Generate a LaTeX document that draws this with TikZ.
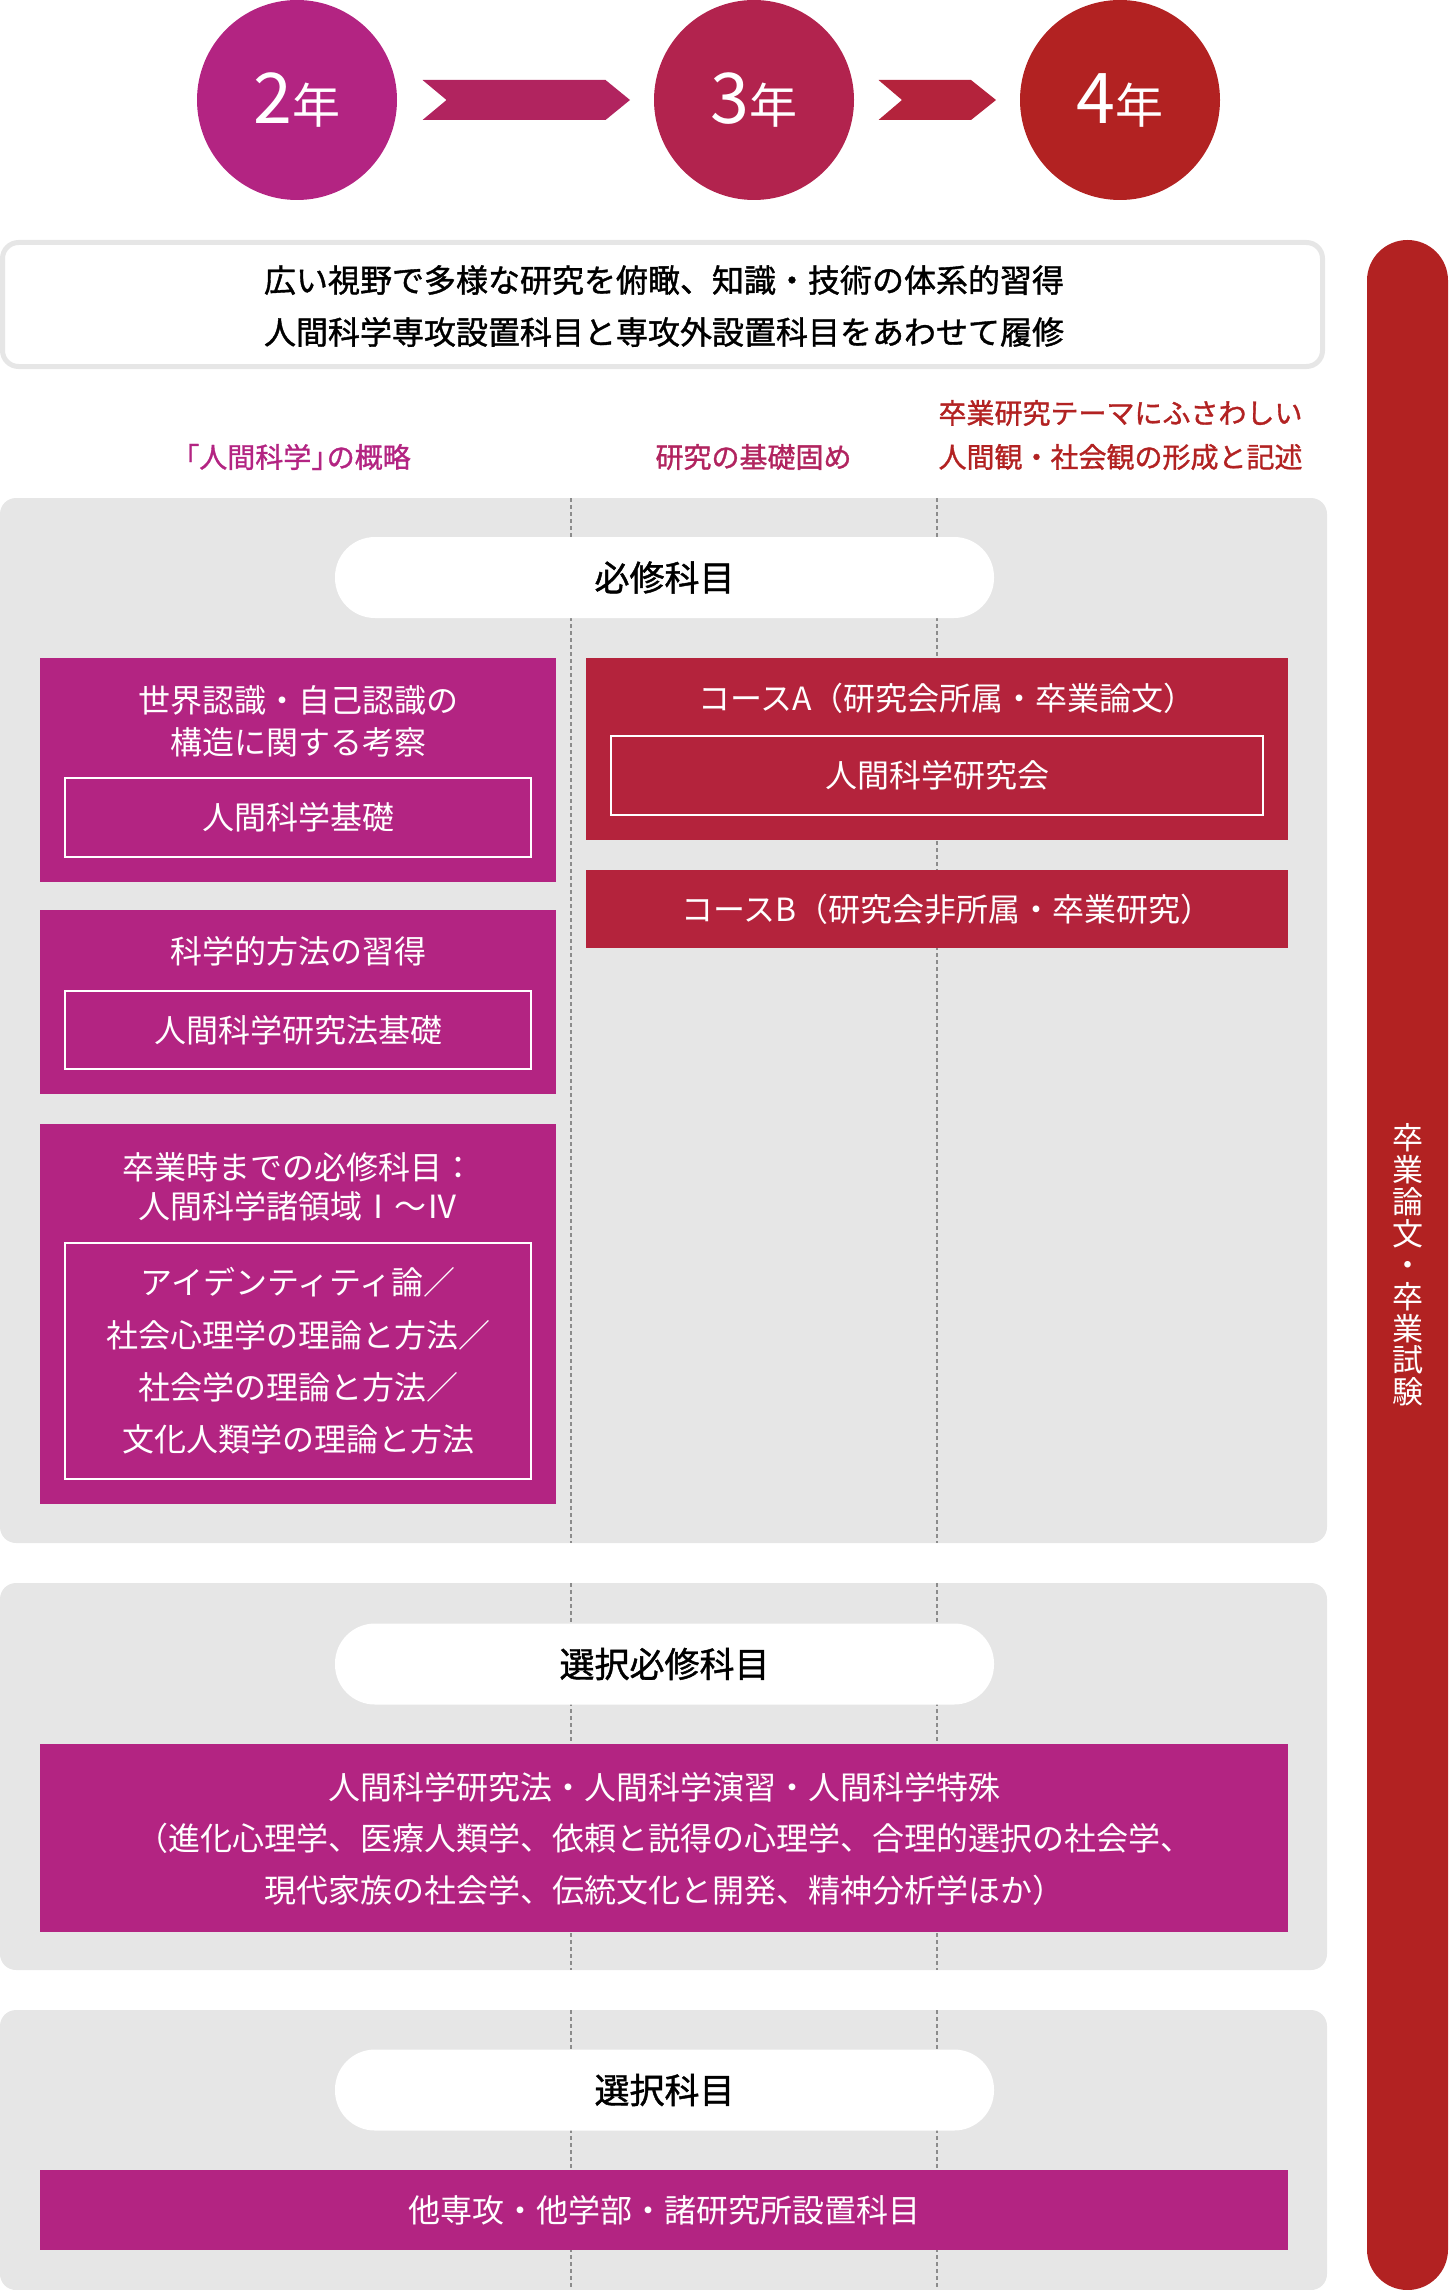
\documentclass[tikz,border=0pt]{standalone}
\usepackage{fontspec}
\setmainfont{Noto Sans CJK JP}
\newfontfamily\jpmed[FakeBold=1.2]{Noto Sans CJK JP}
\definecolor{mag}{HTML}{B32482}
\definecolor{magb}{HTML}{B1245F}
\definecolor{crim}{HTML}{B2234E}
\definecolor{crimb}{HTML}{B4233C}
\definecolor{redd}{HTML}{B22222}
\definecolor{panelc}{HTML}{E6E6E6}
\definecolor{dashc}{HTML}{8C8C8C}
\newcommand\yearlabel[1]{{\fontsize{70}{70}\selectfont #1}{\fontsize{48}{48}\selectfont 年}}
\begin{document}
\begin{tikzpicture}[x=1pt,y=-1pt,
  yearc/.style={circle,inner sep=0pt,minimum size=200pt,text=white},
  panelbox/.style={fill=panelc,rounded corners=16pt},
  dashln/.style={draw=dashc,line width=1.2pt,dash pattern=on 4pt off 3pt},
  lbl/.style={font=\jpmed\fontsize{28}{44}\selectfont,align=center,inner sep=0pt},
  pill/.style={fill=white,rounded corners=40pt,minimum width=659pt,minimum height=81pt,inner sep=0pt,font=\jpmed\fontsize{35}{35}\selectfont,text=black},
  cbox/.style={fill=#1,inner sep=0pt},
  wtxt/.style={text=white,align=center,inner sep=0pt,font=\fontsize{32}{42}\selectfont},
  inbox/.style={draw=white,line width=2.5pt,inner sep=0pt,text=white,align=center,font=\fontsize{32}{52.3}\selectfont}
]
\useasboundingbox (0,0) rectangle (1448,2290);

% year circles and chevrons
\node[yearc,fill=mag] (y2) at (297,100) {\yearlabel{2}};
\node[yearc,fill=crim] (y3) at (754,100) {\yearlabel{3}};
\node[yearc,fill=redd] (y4) at (1120,100) {\yearlabel{4}};
\fill[magb] (422.5,80) -- (605.5,80) -- (630,100) -- (605.5,120) -- (422.5,120) -- (446.5,100) -- cycle;
\fill[crimb] (878.5,80) -- (971,80) -- (996,100) -- (971,120) -- (878.5,120) -- (902,100) -- cycle;

% right bar
\fill[redd,rounded corners=40.5pt] (1367,240) rectangle (1448,2290);
\node[text=white,align=center,inner sep=0pt,font=\fontsize{31}{31.7}\selectfont] (vt) at (1408,1265)
  {卒\\業\\論\\文\\・\\卒\\業\\試\\験};

% intro box
\draw[draw=panelc,line width=5pt,fill=white,rounded corners=16pt] (2.5,242.5) rectangle (1322.5,366.5);
\node[align=center,inner sep=0pt,font=\jpmed\fontsize{32}{52}\selectfont,text=black] (intro) at (664,306)
  {広い視野で多様な研究を俯瞰、知識・技術の体系的習得\\人間科学専攻設置科目と専攻外設置科目をあわせて履修};

% column labels
\node[lbl,text=mag] (l1) at (291,457) {「人間科学」\kern-0.45em の概略};
\node[lbl,text=magb] (l2) at (753.5,457) {研究の基礎固め};
\node[lbl,text=redd] (l3) at (1120.5,435) {卒業研究テーマにふさわしい\\人間観・社会観の形成と記述};

% panels
\fill[panelbox] (0,498) rectangle (1327,1543);
\fill[panelbox] (0,1583) rectangle (1327,1970);
\fill[panelbox] (0,2010) rectangle (1327,2290);
\foreach \xx in {571,937}{
  \draw[dashln] (\xx,498) -- (\xx,1543);
  \draw[dashln] (\xx,1583) -- (\xx,1970);
  \draw[dashln] (\xx,2010) -- (\xx,2290);
}

% panel 1
\node[pill] (p1) at (664.5,577.5) {必修科目};
\node[cbox=mag,minimum width=516pt,minimum height=224pt] (b1) at (298,770) {};
\node[wtxt] (b1t) at (298,721) {世界認識・自己認識の\\構造に関する考察};
\node[inbox,minimum width=466pt,minimum height=79pt] (b1i) at (298,817.5) {人間科学基礎};

\node[cbox=mag,minimum width=516pt,minimum height=184pt] (b2) at (298,1002) {};
\node[wtxt] (b2t) at (298,951) {科学的方法の習得};
\node[inbox,minimum width=466pt,minimum height=78pt] (b2i) at (298,1030) {人間科学研究法基礎};

\node[cbox=mag,minimum width=516pt,minimum height=380pt] (b3) at (298,1314) {};
\node[wtxt,font=\fontsize{32}{39}\selectfont] (b3t) at (298,1186.5) {卒業時までの必修科目：\\人間科学諸領域Ⅰ～Ⅳ};
\node[inbox,minimum width=466pt,minimum height=236pt] (b3i) at (298,1361)
  {アイデンティティ論／\\社会心理学の理論と方法／\\社会学の理論と方法／\\文化人類学の理論と方法};

\node[cbox=crimb,minimum width=702pt,minimum height=182pt] (ca) at (937,749) {};
\node[wtxt] (cat) at (947,698) {コースA（研究会所属・卒業論文）};
\node[inbox,minimum width=652pt,minimum height=79pt] (cai) at (937,775.5) {人間科学研究会};

\node[cbox=crimb,minimum width=702pt,minimum height=78pt] (cb) at (937,909) {};
\node[wtxt] (cbt) at (947,909) {コースB（研究会非所属・卒業研究）};

% panel 2
\node[pill] (p2) at (664.5,1664) {選択必修科目};
\node[cbox=mag,minimum width=1248pt,minimum height=188pt] (w1) at (664,1838) {};
\node[wtxt,font=\fontsize{32}{51.5}\selectfont] (w1t) at (664,1838.5)
  {人間科学研究法・人間科学演習・人間科学特殊\\（進化心理学、医療人類学、依頼と説得の心理学、合理的選択の社会学、\\現代家族の社会学、伝統文化と開発、精神分析学ほか）};

% panel 3
\node[pill] (p3) at (664.5,2090) {選択科目};
\node[cbox=mag,minimum width=1248pt,minimum height=80pt,text=white,font=\fontsize{32}{42}\selectfont] (w2) at (664,2210)
  {他専攻・他学部・諸研究所設置科目};
\end{tikzpicture}
\end{document}
